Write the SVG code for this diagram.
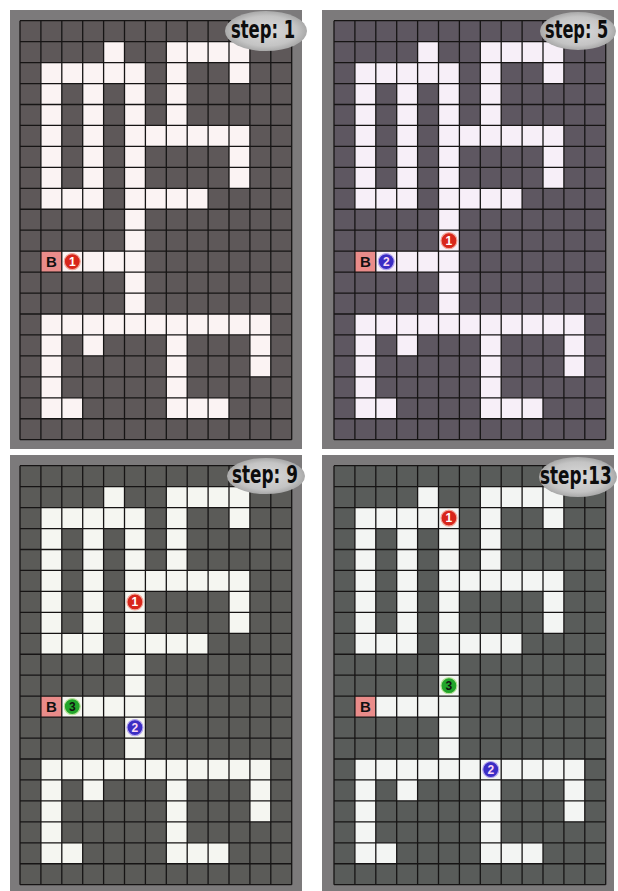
<svg xmlns="http://www.w3.org/2000/svg" width="618" height="891" viewBox="0 0 618 891">
<style>
.frame{fill:#7c7a7b;}
.grid{fill:none;stroke:#161414;stroke-width:1.3;}
.bcell{fill:#ea8c8a;}
.btxt{font-family:"Liberation Sans",Arial,sans-serif;font-weight:bold;font-size:15px;fill:#111;text-anchor:middle;}
.mk{font-family:"Liberation Sans",Arial,sans-serif;font-weight:bold;font-size:12px;text-anchor:middle;}
.lbl{fill:url(#lblg);}
.step{font-family:"DejaVu Sans Condensed","DejaVu Sans",sans-serif;font-weight:bold;font-size:24px;fill:#0d0d0d;}
.red{fill:#d8261b;stroke:#f3a79a;stroke-width:1.2;}
.blue{fill:#3b2dc4;stroke:#b7a9ee;stroke-width:1.2;}
.green{fill:#22a52a;stroke:#b9e39a;stroke-width:1.2;}
</style>
<defs>
<radialGradient id="lblg" cx="0.5" cy="0.5" r="0.5">
<stop offset="0" stop-color="#dadada"/>
<stop offset="0.75" stop-color="#c4c4c4"/>
<stop offset="1" stop-color="#a9a9a9"/>
</radialGradient>
<g id="cells">
<rect x="83.6" y="20.95" width="20.9" height="20.95"/>
<rect x="146.3" y="20.95" width="83.6" height="20.95"/>
<rect x="20.9" y="41.9" width="104.5" height="20.95"/>
<rect x="209" y="20.95" width="20.9" height="41.9"/>
<rect x="20.9" y="41.9" width="20.9" height="146.65"/>
<rect x="62.7" y="41.9" width="20.9" height="146.65"/>
<rect x="104.5" y="41.9" width="20.9" height="251.4"/>
<rect x="146.3" y="20.95" width="20.9" height="104.75"/>
<rect x="104.5" y="104.75" width="125.4" height="20.95"/>
<rect x="209" y="104.75" width="20.9" height="62.85"/>
<rect x="20.9" y="167.6" width="62.7" height="20.95"/>
<rect x="104.5" y="167.6" width="83.6" height="20.95"/>
<rect x="41.8" y="230.45" width="83.6" height="20.95"/>
<rect x="20.9" y="293.3" width="229.9" height="20.95"/>
<rect x="20.9" y="293.3" width="20.9" height="104.75"/>
<rect x="62.7" y="314.25" width="20.9" height="20.95"/>
<rect x="146.3" y="293.3" width="20.9" height="104.75"/>
<rect x="229.9" y="293.3" width="20.9" height="62.85"/>
<rect x="20.9" y="377.1" width="41.8" height="20.95"/>
<rect x="146.3" y="377.1" width="62.7" height="20.95"/>
</g>
<path id="gridlines" d="M0 0V419M20.9 0V419M41.8 0V419M62.7 0V419M83.6 0V419M104.5 0V419M125.4 0V419M146.3 0V419M167.2 0V419M188.1 0V419M209 0V419M229.9 0V419M250.8 0V419M271.7 0V419M0 0H271.7M0 20.95H271.7M0 41.9H271.7M0 62.85H271.7M0 83.8H271.7M0 104.75H271.7M0 125.7H271.7M0 146.65H271.7M0 167.6H271.7M0 188.55H271.7M0 209.5H271.7M0 230.45H271.7M0 251.4H271.7M0 272.35H271.7M0 293.3H271.7M0 314.25H271.7M0 335.2H271.7M0 356.15H271.7M0 377.1H271.7M0 398.05H271.7M0 419H271.7"/>
<g id="bmark">
<rect class="bcell" x="20.9" y="230.45" width="20.9" height="20.95"/>
<text class="btxt" x="31.35" y="246.5">B</text>
</g>
</defs>
<rect width="618" height="891" fill="#ffffff"/>

<g id="panel-step1">
<rect class="frame" x="10" y="10" width="292" height="439"/>
<g transform="translate(20,20.7)">
<rect width="271.7" height="419" fill="#5e5859"/>
<use href="#cells" fill="#fbf3f3"/>
<use href="#bmark"/>
<use href="#gridlines" class="grid"/>
</g>
<g id="p1-m1"><circle class="red" cx="72.25" cy="261.6" r="8"/><text class="mk" x="72.25" y="265.9" fill="#fff">1</text></g>
<g id="p1-label"><ellipse class="lbl" cx="266" cy="31" rx="41" ry="20"/><text class="step" transform="translate(231,38) scale(0.76,1)">step: 1</text></g>
</g>

<g id="panel-step5">
<rect class="frame" x="322" y="10" width="292" height="439"/>
<g transform="translate(334,20.7)">
<rect width="271.7" height="419" fill="#5e5761"/>
<use href="#cells" fill="#f7eff8"/>
<use href="#bmark"/>
<use href="#gridlines" class="grid"/>
</g>
<g id="p2-m1"><circle class="red" cx="448.95" cy="240.7" r="8"/><text class="mk" x="448.95" y="245" fill="#fff">1</text></g>
<g id="p2-m2"><circle class="blue" cx="386.25" cy="261.6" r="8"/><text class="mk" x="386.25" y="265.9" fill="#fbd9f2">2</text></g>
<g id="p2-label"><ellipse class="lbl" cx="578" cy="31" rx="38" ry="19"/><text class="step" transform="translate(545,38) scale(0.75,1)">step: 5</text></g>
</g>

<g id="panel-step9">
<rect class="frame" x="10" y="455" width="292" height="436"/>
<g transform="translate(20,465.7)">
<rect width="271.7" height="419" fill="#5b5b58"/>
<use href="#cells" fill="#f5f6f1"/>
<use href="#bmark"/>
<use href="#gridlines" class="grid"/>
</g>
<g id="p3-m1"><circle class="red" cx="134.95" cy="601.9" r="8"/><text class="mk" x="134.95" y="606.2" fill="#fff">1</text></g>
<g id="p3-m3"><circle class="green" cx="72.25" cy="706.6" r="8"/><text class="mk" x="72.25" y="710.9" fill="#111">3</text></g>
<g id="p3-m2"><circle class="blue" cx="134.95" cy="727.6" r="8"/><text class="mk" x="134.95" y="731.9" fill="#fbd9f2">2</text></g>
<g id="p3-label"><ellipse class="lbl" cx="266" cy="476" rx="39" ry="18"/><text class="step" transform="translate(232,483) scale(0.78,1)">step: 9</text></g>
</g>

<g id="panel-step13">
<rect class="frame" x="322" y="455" width="292" height="436"/>
<g transform="translate(334,465.7)">
<rect width="271.7" height="419" fill="#595c5a"/>
<use href="#cells" fill="#f3f5f3"/>
<use href="#bmark"/>
<use href="#gridlines" class="grid"/>
</g>
<g id="p4-m1"><circle class="red" cx="448.95" cy="518.1" r="8"/><text class="mk" x="448.95" y="522.4" fill="#fff">1</text></g>
<g id="p4-m3"><circle class="green" cx="448.95" cy="685.7" r="8"/><text class="mk" x="448.95" y="690" fill="#111">3</text></g>
<g id="p4-m2"><circle class="blue" cx="490.75" cy="769.5" r="8"/><text class="mk" x="490.75" y="773.8" fill="#fbd9f2">2</text></g>
<g id="p4-label"><ellipse class="lbl" cx="578" cy="477" rx="39" ry="20"/><text class="step" transform="translate(540,484) scale(0.78,1)">step:13</text></g>
</g>
</svg>
